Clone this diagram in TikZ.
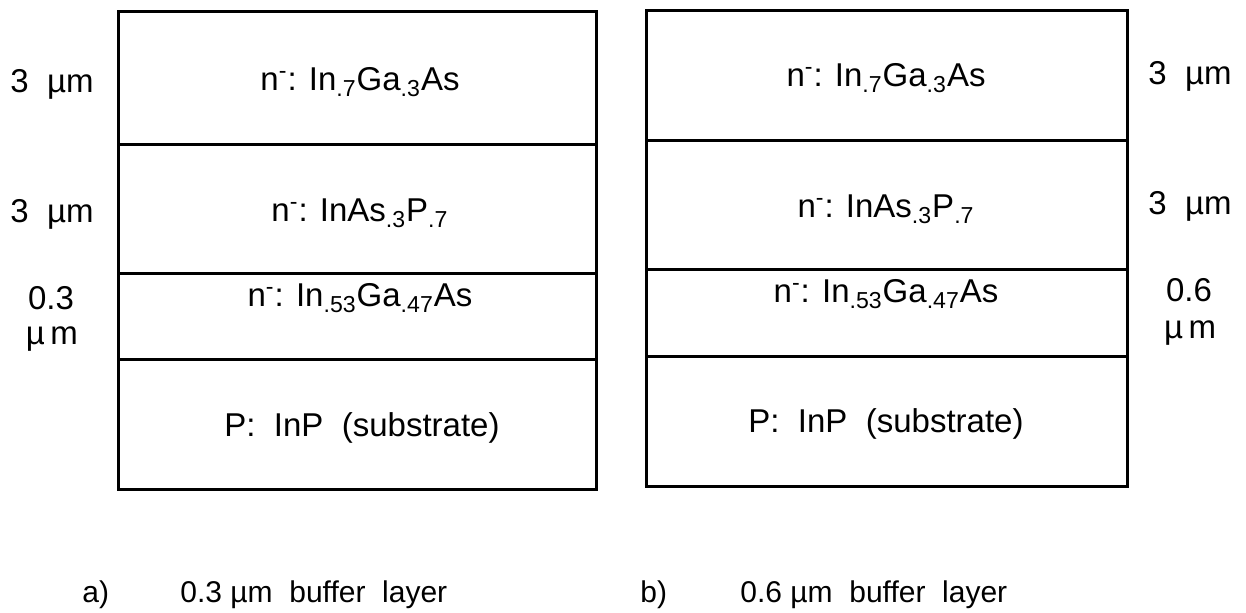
\documentclass[tikz,border=0pt]{standalone}
\usepackage{fontspec}
\setmainfont{Liberation Sans}
\begin{document}
\begin{tikzpicture}[x=0.5pt,y=-0.5pt,
  layerbox/.style={draw, line width=1.7pt, inner sep=0pt, anchor=north west},
  lbl/.style={font=\fontsize{16.5}{19}\selectfont, inner sep=0pt, anchor=base},
  captxt/.style={font=\fontsize{15}{18}\selectfont, inner sep=0pt, anchor=base west}]
\useasboundingbox (0,0) rectangle (1246,613);
% left stack
\node[layerbox, minimum width=239pt, minimum height=66.5pt] (L1) at (117,10) {};
\node[layerbox, minimum width=239pt, minimum height=64.5pt] (L2) at (117,143) {};
\node[layerbox, minimum width=239pt, minimum height=43pt] (L3) at (117,272) {};
\node[layerbox, minimum width=239pt, minimum height=65pt] (L4) at (117,358) {};
% right stack
\node[layerbox, minimum width=240.5pt, minimum height=65pt] (R1) at (645,9) {};
\node[layerbox, minimum width=240.5pt, minimum height=64.5pt] (R2) at (645,139) {};
\node[layerbox, minimum width=240.5pt, minimum height=43.5pt] (R3) at (645,268) {};
\node[layerbox, minimum width=240.5pt, minimum height=65pt] (R4) at (645,355) {};
% left layer texts
\node[lbl] (lt1) at (360,91) {n\textsuperscript{-}: In\textsubscript{.7}Ga\textsubscript{.3}As};
\node[lbl] (lt2) at (360,222) {n\textsuperscript{-}: InAs\textsubscript{.3}P\textsubscript{.7}};
\node[lbl] (lt3) at (360,307) {n\textsuperscript{-}: In\textsubscript{.53}Ga\textsubscript{.47}As};
\node[lbl] (lt4) at (362,437) {P:\ \ InP\ \ (substrate)};
% right layer texts
\node[lbl] (rt1) at (886,87) {n\textsuperscript{-}: In\textsubscript{.7}Ga\textsubscript{.3}As};
\node[lbl] (rt2) at (886,218) {n\textsuperscript{-}: InAs\textsubscript{.3}P\textsubscript{.7}};
\node[lbl] (rt3) at (886,303) {n\textsuperscript{-}: In\textsubscript{.53}Ga\textsubscript{.47}As};
\node[lbl] (rt4) at (886,433) {P:\ \ InP\ \ (substrate)};
% left thickness labels
\node[lbl] (la1) at (52,93) {3\ \ µm};
\node[lbl] (la2) at (52,223) {3\ \ µm};
\node[lbl] (la3) at (51,310) {0.3};
\node[lbl] (la4) at (52,345) {µ\,m};
% right thickness labels
\node[lbl] (ra1) at (1190,85) {3\ \ µm};
\node[lbl] (ra2) at (1190,215) {3\ \ µm};
\node[lbl] (ra3) at (1189,302) {0.6};
\node[lbl] (ra4) at (1190,339) {µ\,m};
% captions
\node[captxt] (ca) at (82,603) {a)};
\node[captxt] (cat) at (180,603) {0.3\ µm\ \ buffer\ \ layer};
\node[captxt] (cb) at (640,603) {b)};
\node[captxt] (cbt) at (740,603) {0.6\ µm\ \ buffer\ \ layer};
\end{tikzpicture}
\end{document}
